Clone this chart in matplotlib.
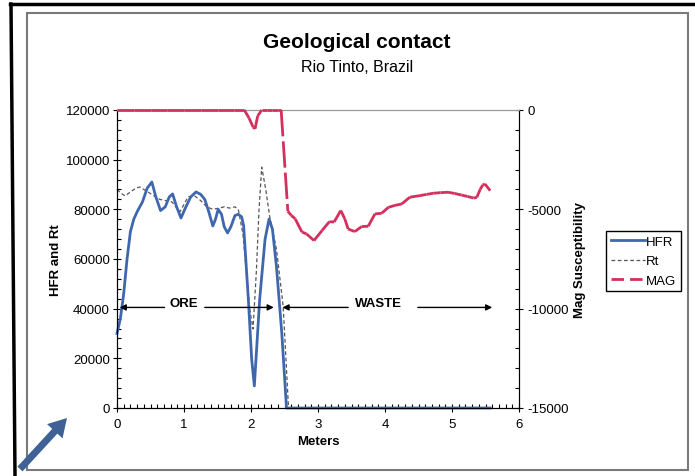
import matplotlib
matplotlib.use("Agg")
import matplotlib.pyplot as plt
from matplotlib.collections import LineCollection
from matplotlib.lines import Line2D
from matplotlib.patches import FancyArrow, Rectangle
from matplotlib.ticker import MultipleLocator

plt.rcParams['font.family'] = ['Liberation Sans', 'DejaVu Sans']
plt.rcParams['axes.unicode_minus'] = False

# HFR (left axis)
hfr_x = [0, 0.05, 0.1, 0.15, 0.2, 0.25, 0.3, 0.38, 0.45, 0.52, 0.58, 0.65, 0.72, 0.78,
         0.83, 0.89, 0.955, 1.02, 1.1, 1.18, 1.25, 1.31, 1.37, 1.43, 1.47, 1.51, 1.56,
         1.6, 1.65, 1.7, 1.76, 1.81, 1.86, 1.89, 1.96, 2.01, 2.05, 2.13, 2.21, 2.27,
         2.32, 2.38, 2.46, 2.53, 3.0, 4.0, 5.0, 5.57]
hfr_y = [30000, 36000, 46000, 60000, 71000, 76000, 79000, 83000, 88500, 91000, 85000,
         79500, 81000, 85000, 86200, 81000, 76500, 80500, 85000, 87000, 86000, 84000,
         79000, 73300, 76000, 80000, 78000, 73000, 70500, 73000, 77500, 78000, 77000,
         73400, 44000, 19700, 8900, 44000, 68000, 76100, 72000, 57000, 30000, 0,
         0, 0, 0, 0]

# Rt (left axis)
rt_x = [0, 0.06, 0.12, 0.2, 0.28, 0.34, 0.43, 0.52, 0.64, 0.73, 0.82, 0.88, 0.94, 1.0,
        1.06, 1.16, 1.25, 1.34, 1.43, 1.52, 1.6, 1.68, 1.76, 1.81, 1.88, 1.93, 1.98,
        2.03, 2.08, 2.12, 2.16, 2.22, 2.28, 2.38, 2.48, 2.56, 3.0, 4.0, 5.0, 5.57]
rt_y = [88000, 86500, 85400, 87000, 88500, 89000, 87500, 86000, 84000, 83500, 83000,
        81000, 79000, 82000, 85000, 85400, 83500, 81000, 80000, 80500, 81000, 80500,
        81000, 80000, 70000, 55000, 40000, 31800, 55000, 80000, 97000, 88000, 77000,
        64000, 41000, 0, 0, 0, 0, 0]

# MAG (right axis)
mag_x = [0, 0.25, 0.5, 0.75, 1.0, 1.25, 1.5, 1.75, 1.9, 1.97, 2.03, 2.06, 2.1, 2.16,
         2.24, 2.32, 2.4, 2.45, 2.55, 2.6, 2.66, 2.76, 2.83, 2.94, 3.06, 3.17, 3.24,
         3.34, 3.4, 3.45, 3.55, 3.65, 3.75, 3.85, 3.95, 4.05, 4.15, 4.25, 4.37, 4.52,
         4.62, 4.72, 4.83, 4.94, 5.04, 5.14, 5.23, 5.32, 5.37, 5.42, 5.46, 5.49, 5.57]
mag_y = [0, 0, 0, 0, 0, 0, 0, 0, 0, -400, -850, -950, -300, 0, 0, 0, 0, 0, -5100,
         -5300, -5480, -6140, -6240, -6570, -6070, -5620, -5640, -5060, -5480, -5990,
         -6120, -5870, -5850, -5230, -5200, -4900, -4800, -4730, -4390, -4310, -4250,
         -4190, -4160, -4140, -4200, -4280, -4350, -4430, -4400, -4000, -3770, -3720,
         -4060]

# zone labels: text centre, outer arrow tips and inner line starts (beside the text)
zones = ["ORE", "WASTE"]
zone_text_x = [0.99, 3.9]
zone_left = [0.04, 2.47]
zone_right = [2.34, 5.6]
zone_gap_left = [0.71, 3.45]
zone_gap_right = [1.31, 4.49]
zone_level = 40500

W, H = 695, 477
fig = plt.figure(figsize=(W / 100, H / 100), dpi=100)

# outer black frame and inner grey frame
fig.add_artist(Line2D([10 / W, 1], [1 - 5 / H, 1 - 5 / H], color='black', lw=2.5))
fig.add_artist(Line2D([11 / W, 15 / W], [1 - 5 / H, 0], color='black', lw=2.5))
fig.add_artist(Rectangle((27 / W, 1 - 471 / H), (688 - 27) / W, (471 - 14) / H,
                         transform=fig.transFigure, fill=False,
                         edgecolor='#7a7a7a', lw=1.5))

ax = fig.add_axes([117 / W, 1 - 409 / H, (519 - 117) / W, (409 - 111) / H])
ax2 = ax.twinx()

mag_color = '#D3305E'
l_rt, = ax.plot(rt_x, rt_y, color='#555555', lw=0.9, linestyle=(0, (3, 2)),
                label='Rt', clip_on=False)
l_hfr, = ax.plot(hfr_x, hfr_y, color='#3F67AE', lw=2.0, label='HFR', clip_on=False)

# Excel restarts the dash pattern on every segment, so draw them one by one
mag_segs = [[(mag_x[i], mag_y[i]), (mag_x[i + 1], mag_y[i + 1])]
            for i in range(len(mag_x) - 1)]
ax2.add_collection(LineCollection(mag_segs, colors=mag_color, linewidths=2.0,
                                  linestyles=[(0, (9.5, 1.8))], clip_on=False,
                                  capstyle='butt', zorder=3))
l_mag = Line2D([], [], color=mag_color, lw=2.0, linestyle=(0, (4.5, 2.2)),
               label='MAG')

ax.set_xlim(0, 6)
ax.set_ylim(0, 120000)
ax2.set_ylim(-15000, 0)

ax.xaxis.set_major_locator(MultipleLocator(1))
ax.xaxis.set_minor_locator(MultipleLocator(0.1))
ax.yaxis.set_major_locator(MultipleLocator(20000))
ax.yaxis.set_minor_locator(MultipleLocator(4000))
ax2.yaxis.set_major_locator(MultipleLocator(5000))
ax2.yaxis.set_minor_locator(MultipleLocator(1000))

for a in (ax, ax2):
    a.tick_params(which='major', direction='inout', length=6, width=0.8,
                  labelsize=9.5, colors='black')
    a.tick_params(which='minor', direction='in', length=3, width=0.8)
ax.tick_params(axis='x', pad=4)
ax.tick_params(axis='y', pad=2)
ax2.tick_params(axis='y', pad=3)

ax.spines['top'].set_color('#9a9a9a')
ax2.spines['top'].set_color('#9a9a9a')
for s in ('left', 'bottom'):
    ax.spines[s].set_linewidth(0.8)
ax2.spines['right'].set_linewidth(0.8)

ax.set_xlabel('Meters', fontsize=9.5, fontweight='bold', labelpad=4)
ax.set_ylabel('HFR and Rt', fontsize=9.5, fontweight='bold', labelpad=3)
ax2.set_ylabel('Mag Susceptibility', fontsize=9.5, fontweight='bold', labelpad=4)

fig.text(357 / W, 1 - 43 / H, 'Geological contact', ha='center', va='center',
         fontsize=15, fontweight='bold')
fig.text(357 / W, 1 - 68 / H, 'Rio Tinto, Brazil', ha='center', va='center',
         fontsize=11.5)

# zone annotations
aprops = dict(arrowstyle='-|>', color='black', lw=1.0, mutation_scale=9,
              shrinkA=0, shrinkB=0)
for name, tx, xl, xr, gl, gr in zip(zones, zone_text_x, zone_left, zone_right,
                                    zone_gap_left, zone_gap_right):
    ax.text(tx, zone_level + 1800, name, ha='center', va='center', fontsize=9.5,
            fontweight='bold')
    ax.annotate('', xy=(xl, zone_level), xytext=(gl, zone_level), arrowprops=aprops)
    ax.annotate('', xy=(xr, zone_level), xytext=(gr, zone_level), arrowprops=aprops)

fig.legend(handles=[l_hfr, l_rt, l_mag], loc='upper left',
           bbox_to_anchor=(606 / W, 1 - 232 / H), fontsize=9.5, frameon=True,
           fancybox=False, edgecolor='black', framealpha=1, handlelength=2.6,
           handletextpad=0.1, labelspacing=0.55, borderpad=0.35, borderaxespad=0)

# blue pointer arrow in the corner
fig.add_artist(FancyArrow(0.20, 0.07, 0.47, 0.51, width=0.07, head_width=0.21,
                          head_length=0.18, length_includes_head=True,
                          transform=fig.dpi_scale_trans, color='#3E6196', lw=0))

fig.savefig('out.png', dpi=100)
